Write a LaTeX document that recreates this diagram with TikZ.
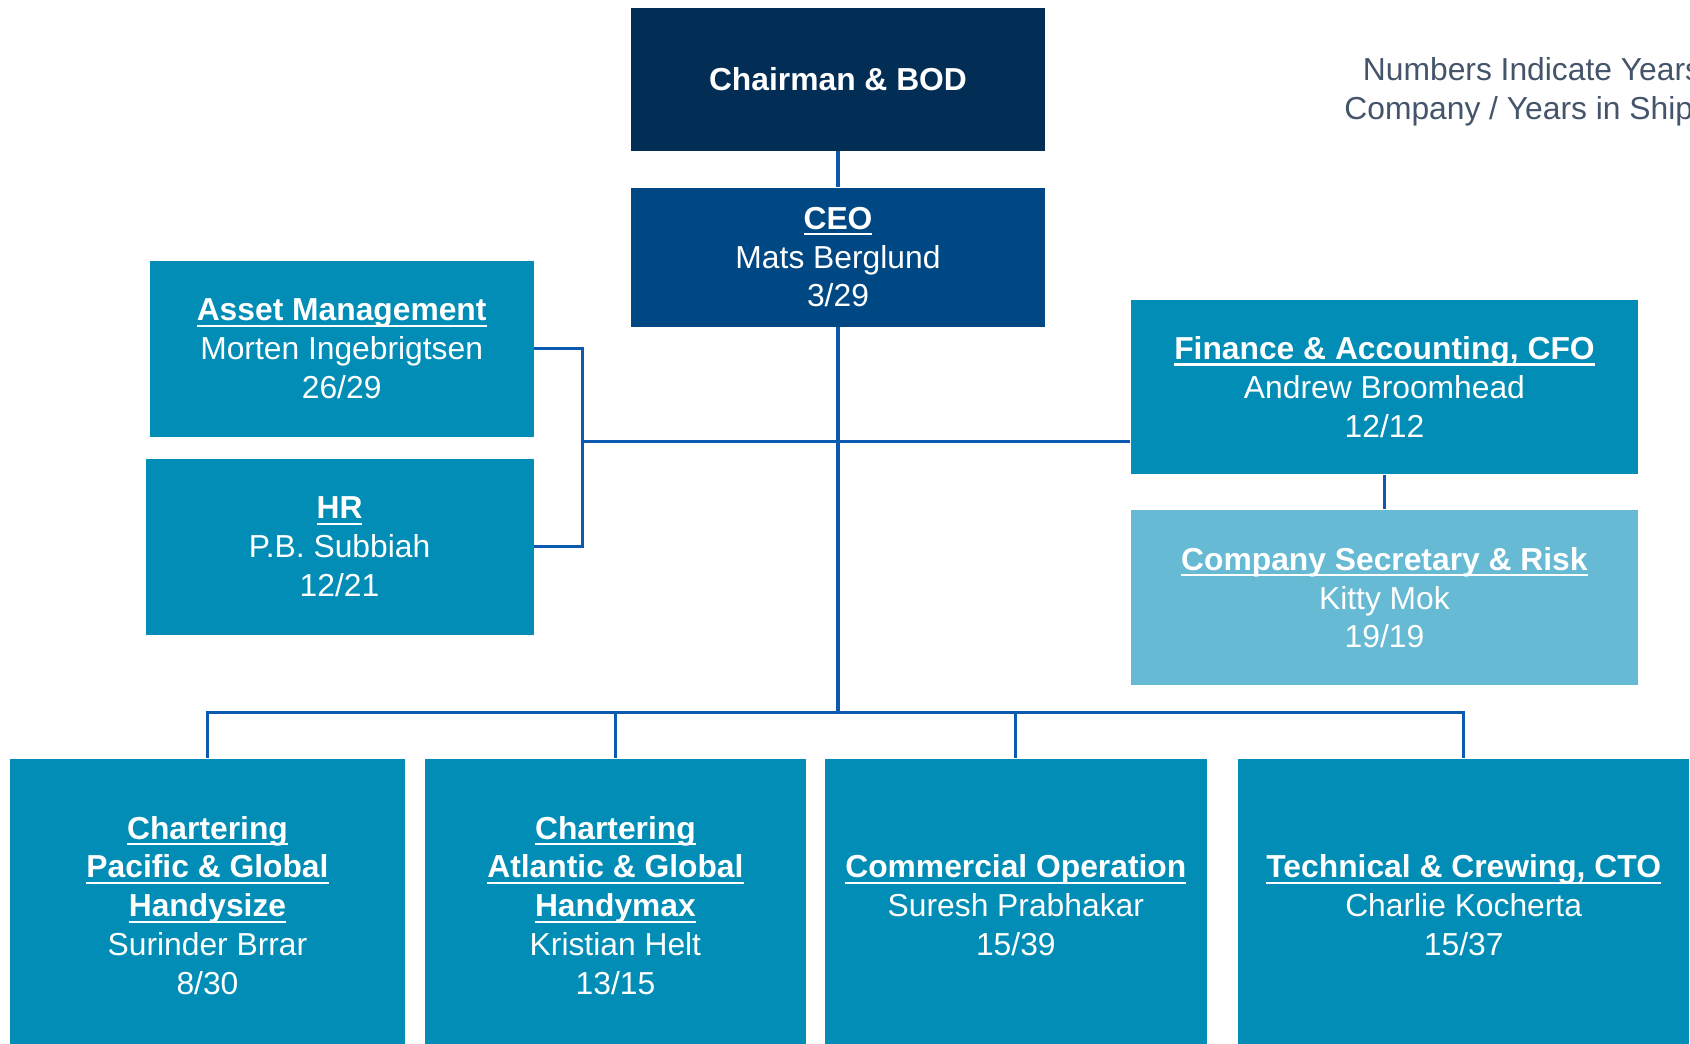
\documentclass[tikz,border=0pt]{standalone}
\usepackage{fontspec}
\setmainfont{Liberation Sans}
\newlength{\hdgw}
\newcommand{\hdg}[1]{\settowidth{\hdgw}{\bfseries #1}\textbf{#1}\llap{\rule[-2.8pt]{\hdgw}{1pt}}}

\definecolor{navy}{RGB}{2,45,85}
\definecolor{ceoblue}{RGB}{0,72,131}
\definecolor{deptblue}{RGB}{1,141,181}
\definecolor{staffblue}{RGB}{102,186,211}
\definecolor{linkblue}{RGB}{12,90,175}
\definecolor{notegrey}{RGB}{68,84,106}

\tikzset{
        box/.style = {rectangle,inner sep=0pt,text=white,align=center},
        board/.style = {fill=navy},
        exec/.style = {fill=ceoblue},
        dept/.style = {fill=deptblue},
        staff/.style = {fill=staffblue},
        link/.style = {draw=linkblue,line width=1.4pt},
        note/.style = {align=center,text=notegrey}
    }

\begin{document}
\begin{tikzpicture}[x=0.5pt,y=-0.5pt,every node/.style={font=\fontsize{14.75}{18}\selectfont}]
            \useasboundingbox (0,0) rectangle (1568,968);

            \node[box,board,minimum width=192.5pt,minimum height=66.5pt] (chair) at (777.5, 73.5) {\textbf{Chairman \& BOD}};
            \node[box,exec,minimum width=192.5pt,minimum height=64.5pt] (ceo) at (777.5, 238.5) {\hdg{CEO}\\Mats Berglund\\3/29};

            \node[box,dept,minimum width=178pt,minimum height=81.5pt] (am) at (317, 323.5) {\hdg{Asset Management}\\Morten Ingebrigtsen\\26/29};
            \node[box,dept,minimum width=180pt,minimum height=81.5pt] (hr) at (315, 507.5) {\hdg{HR}\\P.B. Subbiah\\12/21};

            \node[box,dept,minimum width=235.5pt,minimum height=81pt] (fin) at (1284.5, 359) {\hdg{Finance \& Accounting, CFO}\\Andrew Broomhead\\12/12};
            \node[box,staff,minimum width=235.5pt,minimum height=81.5pt] (sec) at (1284.5, 554.5) {\hdg{Company Secretary \& Risk}\\Kitty Mok\\19/19};

            \node[box,dept,minimum width=183.5pt,minimum height=136pt] (ch1) at (192.5, 840) {\hdg{Chartering}\\\hdg{Pacific \& Global}\\\hdg{Handysize}\\Surinder Brrar\\8/30};
            \node[box,dept,minimum width=177pt,minimum height=136pt] (ch2) at (571, 840) {\hdg{Chartering}\\\hdg{Atlantic \& Global}\\\hdg{Handymax}\\Kristian Helt\\13/15};
            \node[box,dept,minimum width=177.5pt,minimum height=136pt] (com) at (942.5, 840) {\hdg{Commercial Operation}\\Suresh Prabhakar\\15/39};
            \node[box,dept,minimum width=209pt,minimum height=136pt] (tec) at (1358, 840) {\hdg{Technical \& Crewing, CTO}\\Charlie Kocherta\\15/37};

            \node[note] (note) at (1437, 85) {Numbers Indicate Years in\\Company / Years in Shipping};

            \coordinate (brk) at (540, 410);
            \coordinate (bus) at (777.5, 661);

            \draw[link] (chair) -- (ceo);
            \draw[link] (ceo.south) -- (ceo.south |- bus);
            \draw[link] (am.east) -| (brk) |- (hr.east);
            \draw[link] (brk) -- (brk -| fin.west);
            \draw[link] (fin) -- (sec);
            \draw[link] (ch1.north) |- (bus) -| (tec.north);
            \draw[link] (ch2.north) -- (ch2.north |- bus);
            \draw[link] (com.north) -- (com.north |- bus);
        \end{tikzpicture}
\end{document}
